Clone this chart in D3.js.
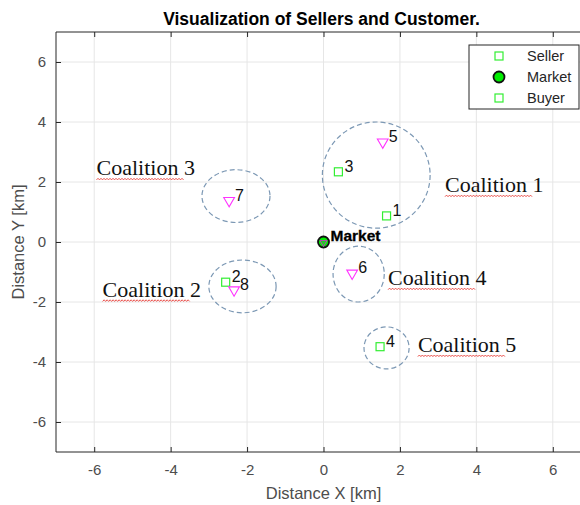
<meta charset="utf-8">
<script src="https://cdn.jsdelivr.net/npm/d3@7"></script>

<style type="text/css">
  body { margin: 0; background: #fff; }
  svg { width: 580px; height: 505px; font-family: Arial, "Liberation Sans", sans-serif; }
</style>

<body></body>

<script>
  // data
  var sellerIds = [1, 2, 3, 4];
  var sellerX   = [1.65, -2.56, 0.39, 1.48];
  var sellerY   = [0.87, -1.34, 2.34, -3.49];

  var buyerIds = [5, 6, 7, 8];
  var buyerX   = [1.55, 0.75, -2.47, -2.34];
  var buyerY   = [3.33, -1.04, 1.38, -1.60];

  var marketX = [0];
  var marketY = [0];

  var coalitionNames = ["Coalition 1", "Coalition 2", "Coalition 3", "Coalition 4", "Coalition 5"];
  var coalitionCX = [1.38, -2.12, -2.29, 0.92, 1.65];
  var coalitionCY = [2.23, -1.48, 1.53, -1.07, -3.53];
  var coalitionRX = [1.41, 0.88, 0.89, 0.67, 0.59];
  var coalitionRY = [1.77, 0.88, 0.88, 0.93, 0.70];
  var labelX = [3.18, -5.78, -5.94, 1.69, 2.47];
  var labelY = [1.67, -1.82, 2.23, -1.43, -3.66];

  var ticks = [-6, -4, -2, 0, 2, 4, 6];
  var legendNames = ["Seller", "Market", "Buyer"];

  // layout
  var width = 580, height = 505;
  var margin = {top: 32, left: 56};
  var plotW = 535, plotH = 420;

  var svg = d3.select('body').append('svg');

  var xScale = d3.scaleLinear().domain([-7, 7]).range([margin.left, margin.left + plotW]);
  var yScale = d3.scaleLinear().domain([-7, 7]).range([margin.top + plotH, margin.top]);

  var plot = svg.append('g');

  // grid
  plot.selectAll('.gx').data(ticks).enter().append('line')
    .attr('x1', d => xScale(d)).attr('x2', d => xScale(d))
    .attr('y1', yScale(-7)).attr('y2', yScale(7))
    .attr('stroke', '#e6e6e6').attr('stroke-width', 1);
  plot.selectAll('.gy').data(ticks).enter().append('line')
    .attr('y1', d => yScale(d)).attr('y2', d => yScale(d))
    .attr('x1', xScale(-7)).attr('x2', xScale(7))
    .attr('stroke', '#e6e6e6').attr('stroke-width', 1);

  // axes (ticks point inward, like matlab)
  var axisColor = '#262626';
  var fmt = d => String(d); // plain hyphen, as in the picture
  var xAxis = d3.axisBottom(xScale).tickValues(ticks).tickSize(-5).tickPadding(12).tickFormat(fmt);
  var xTop  = d3.axisTop(xScale).tickValues(ticks).tickSize(-5).tickFormat('');
  var yAxis = d3.axisLeft(yScale).tickValues(ticks).tickSize(-5).tickPadding(10).tickFormat(fmt);

  function styleAxis(g) {
    g.select('.domain').remove();
    g.selectAll('.tick line').attr('stroke', axisColor);
    g.selectAll('.tick text').attr('fill', '#4d4d4d').style('font-size', '15px')
      .style('font-family', 'Arial, "Liberation Sans", sans-serif');
  }

  svg.append('g').attr('transform', 'translate(0,' + yScale(-7) + ')').call(xAxis).call(styleAxis);
  svg.append('g').attr('transform', 'translate(0,' + yScale(7) + ')').call(xTop).call(styleAxis);
  svg.append('g').attr('transform', 'translate(' + xScale(-7) + ',0)').call(yAxis).call(styleAxis);

  // plain lines for the box
  svg.append('line').attr('x1', xScale(-7)).attr('x2', xScale(7)).attr('y1', yScale(-7)).attr('y2', yScale(-7)).attr('stroke', axisColor);
  svg.append('line').attr('x1', xScale(-7)).attr('x2', xScale(7)).attr('y1', yScale(7)).attr('y2', yScale(7)).attr('stroke', axisColor);
  svg.append('line').attr('x1', xScale(-7)).attr('x2', xScale(-7)).attr('y1', yScale(-7)).attr('y2', yScale(7)).attr('stroke', axisColor);

  // coalition circles
  plot.selectAll('ellipse').data(coalitionNames).enter().append('ellipse')
    .attr('cx', (d, i) => xScale(coalitionCX[i]))
    .attr('cy', (d, i) => yScale(coalitionCY[i]))
    .attr('rx', (d, i) => xScale(coalitionRX[i]) - xScale(0))
    .attr('ry', (d, i) => yScale(0) - yScale(coalitionRY[i]))
    .attr('fill', 'none').attr('stroke', '#7c98b4').attr('stroke-width', 1.2)
    .attr('stroke-dasharray', '5,3');

  // coalition labels with the red spell-check squiggle
  var labels = plot.selectAll('.clabel').data(coalitionNames).enter().append('text')
    .attr('class', 'clabel')
    .attr('x', (d, i) => xScale(labelX[i]))
    .attr('y', (d, i) => yScale(labelY[i]))
    .attr('fill', '#111')
    .style('font-family', '"Liberation Serif", "Times New Roman", serif')
    .style('font-size', '22px')
    .text(d => d);

  labels.each(function(d, i) {
    var w = this.getSubStringLength(0, 10);
    var x0 = xScale(labelX[i]), y0 = yScale(labelY[i]) + 4;
    var pts = [];
    for (var k = 0; k * 1.5 <= w; k++) pts.push([x0 + k * 1.5, y0 + (k % 2 ? -0.8 : 0.8)]);
    plot.append('path').attr('d', d3.line()(pts))
      .attr('fill', 'none').attr('stroke', '#e8403a').attr('stroke-width', 0.9);
  });

  // sellers
  var sq = 8;
  plot.selectAll('.seller').data(sellerIds).enter().append('rect')
    .attr('x', (d, i) => xScale(sellerX[i]) - sq / 2)
    .attr('y', (d, i) => yScale(sellerY[i]) - sq / 2)
    .attr('width', sq).attr('height', sq)
    .attr('fill', 'none').attr('stroke', '#33ee33').attr('stroke-width', 1.2);

  // buyers (down triangles)
  var tri = d3.symbol().type(d3.symbolTriangle).size(50);
  plot.selectAll('.buyer').data(buyerIds).enter().append('path')
    .attr('d', tri)
    .attr('transform', (d, i) => 'translate(' + xScale(buyerX[i]) + ',' + (yScale(buyerY[i])) + ') rotate(180)')
    .attr('fill', 'none').attr('stroke', '#ff33ff').attr('stroke-width', 1.1);

  // id labels
  plot.selectAll('.sid').data(sellerIds).enter().append('text')
    .attr('x', (d, i) => xScale(sellerX[i]) + 6)
    .attr('y', (d, i) => yScale(sellerY[i]))
    .attr('fill', '#111').style('font-size', '16px')
    .text(d => d);
  plot.selectAll('.bid').data(buyerIds).enter().append('text')
    .attr('x', (d, i) => xScale(buyerX[i]) + 6)
    .attr('y', (d, i) => yScale(buyerY[i]))
    .attr('fill', '#111').style('font-size', '16px')
    .text(d => d);

  // market
  var mx = xScale(marketX[0]), my = yScale(marketY[0]);
  plot.append('circle').attr('cx', mx).attr('cy', my).attr('r', 5.5)
    .attr('fill', '#00ee00').attr('stroke', '#111').attr('stroke-width', 1.8);
  plot.append('path').attr('d', d3.symbol().type(d3.symbolTriangle).size(22))
    .attr('transform', 'translate(' + mx + ',' + (my + 0.5) + ') rotate(180)')
    .attr('fill', '#22cc22').attr('stroke', '#dd22dd').attr('stroke-width', 0.8);
  plot.append('text').attr('x', mx + 7).attr('y', my - 1)
    .attr('fill', '#000').style('font-size', '15.5px').style('font-weight', 'bold')
    .attr('stroke', '#000').attr('stroke-width', 0.3)
    .text('Market');

  // legend
  var lg = svg.append('g').attr('transform', 'translate(469,45)');
  lg.append('rect').attr('width', 110).attr('height', 64)
    .attr('fill', '#fff').attr('stroke', '#262626').attr('stroke-width', 1);
  var ly = d3.scalePoint().domain(legendNames).range([11, 53]);
  legendNames.forEach(function(n) {
    if (n === 'Market') {
      lg.append('circle').attr('cx', 30).attr('cy', ly(n)).attr('r', 5.5)
        .attr('fill', '#00ee00').attr('stroke', '#111').attr('stroke-width', 1.8);
    } else {
      lg.append('rect').attr('x', 26).attr('y', ly(n) - 4).attr('width', 8).attr('height', 8)
        .attr('fill', 'none').attr('stroke', '#33ee33').attr('stroke-width', 1.2);
    }
    lg.append('text').attr('x', 58).attr('y', ly(n)).attr('dy', '0.35em')
      .attr('fill', '#262626').style('font-size', '14.5px').text(n);
  });

  // title and axis labels
  svg.append('text').attr('x', xScale(0) - 2).attr('y', 25).attr('text-anchor', 'middle')
    .style('font-size', '17.5px').style('font-weight', 'bold').attr('fill', '#000')
    .text('Visualization of Sellers and Customer.');
  svg.append('text').attr('x', xScale(0)).attr('y', 499).attr('text-anchor', 'middle')
    .style('font-size', '16.5px').attr('fill', '#4d4d4d')
    .text('Distance X [km]');
  svg.append('text').attr('transform', 'translate(24,' + yScale(0) + ') rotate(-90)')
    .attr('text-anchor', 'middle')
    .style('font-size', '16.5px').attr('fill', '#4d4d4d')
    .text('Distance Y [km]');
</script>
